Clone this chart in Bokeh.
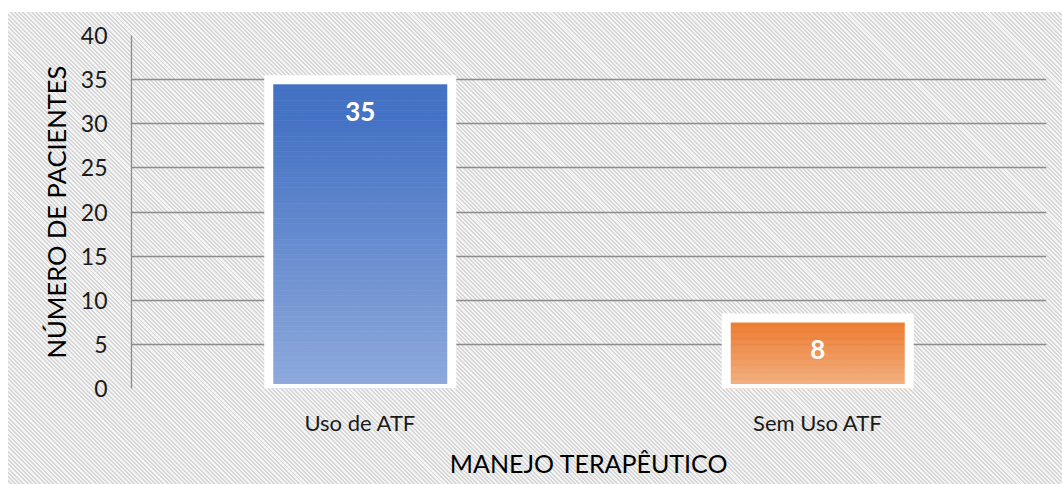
from bokeh.plotting import figure
from bokeh.models import FactorRange, Range1d
from bokeh.core.properties import value
from bokeh.embed import file_html
from bokeh.resources import INLINE

categories = ["Uso de ATF", "Sem Uso ATF"]
values = [35, 8]
bar_labels = ["35", "8"]
top_colors = ["#4472C4", "#ED7D31"]
bottom_colors = ["#8FAADC", "#F4B183"]
y_ticks = [0, 5, 10, 15, 20, 25, 30, 35, 40]

FONT = "Lato"
GRID = "#8C8C8C"


def hex2rgb(h):
    h = h.lstrip("#")
    return tuple(int(h[i:i + 2], 16) for i in (0, 2, 4))


def mix(c1, c2, t):
    a, b = hex2rgb(c1), hex2rgb(c2)
    return "#%02x%02x%02x" % tuple(round(a[i] + (b[i] - a[i]) * t) for i in range(3))


p = figure(
    width=1062, height=484,
    x_range=FactorRange(*categories),
    y_range=Range1d(0, 40),
    output_backend="svg", toolbar_location=None,
    min_border_left=131, min_border_right=16, min_border_top=35, min_border_bottom=96,
)
p.background_fill_color = None
p.border_fill_color = None
p.outline_line_color = None
p.styles = {
    "background": "repeating-linear-gradient(45deg, #f4f4f4 0px, #f4f4f4 1.6px, #d6d6d6 1.6px, #d6d6d6 3px) "
                  "8px 12px / calc(100% - 8px) calc(100% - 12px) no-repeat, #ffffff"
}

# gradient bars built from strips of each bar's value
N = 60
xs, bots, tops, cols = [], [], [], []
for cat, v, ct, cb in zip(categories, values, top_colors, bottom_colors):
    for i in range(N):
        xs.append(cat)
        bots.append(v * i / N)
        tops.append(v * (i + 1) / N)
        depth = 1 - (i + 0.5) / N          # 0 at top, 1 at bottom
        t = max(0.0, (depth - 0.12) / 0.88)
        cols.append(mix(ct, cb, t))
p.vbar(x=xs, bottom=bots, top=tops, width=0.4, fill_color=cols, line_color=cols, line_width=0.6)
p.vbar(x=categories, top=values, width=0.4, fill_color=None, line_color="white",
       line_width=9, line_join="miter")

p.text(x=categories, y=values, text=bar_labels, y_offset=32,
       text_align="center", text_baseline="middle", text_color="white",
       text_font=value(FONT), text_font_style="bold", text_font_size="26px")

# grid
p.xgrid.grid_line_color = None
p.ygrid.grid_line_color = GRID
p.ygrid.grid_line_width = 1.3
p.yaxis.ticker = y_ticks

# y axis
p.yaxis.axis_line_color = GRID
p.yaxis.axis_line_width = 1.3
p.yaxis.major_tick_line_color = None
p.yaxis.minor_tick_line_color = None
p.yaxis.major_label_standoff = 18
p.yaxis.major_label_text_font = FONT
p.yaxis.major_label_text_font_size = "23px"
p.yaxis.major_label_text_color = "#1a1a1a"
p.yaxis.axis_label = "NÚMERO DE PACIENTES"
p.yaxis.axis_label_text_font = FONT
p.yaxis.axis_label_text_font_size = "25.5px"
p.yaxis.axis_label_text_font_style = "normal"
p.yaxis.axis_label_text_color = "#000000"
p.yaxis.axis_label_standoff = 7

# x axis
p.xaxis.axis_line_color = None
p.xaxis.major_tick_line_color = None
p.xaxis.minor_tick_line_color = None
p.xaxis.major_label_standoff = 14
p.xaxis.major_label_text_font = FONT
p.xaxis.major_label_text_font_size = "22px"
p.xaxis.major_label_text_color = "#1a1a1a"
p.xaxis.axis_label = "MANEJO TERAPÊUTICO"
p.xaxis.axis_label_text_font = FONT
p.xaxis.axis_label_text_font_size = "25px"
p.xaxis.axis_label_text_font_style = "normal"
p.xaxis.axis_label_text_color = "#000000"
p.xaxis.axis_label_standoff = 9

open("out.html", "w").write(file_html(p, INLINE))
